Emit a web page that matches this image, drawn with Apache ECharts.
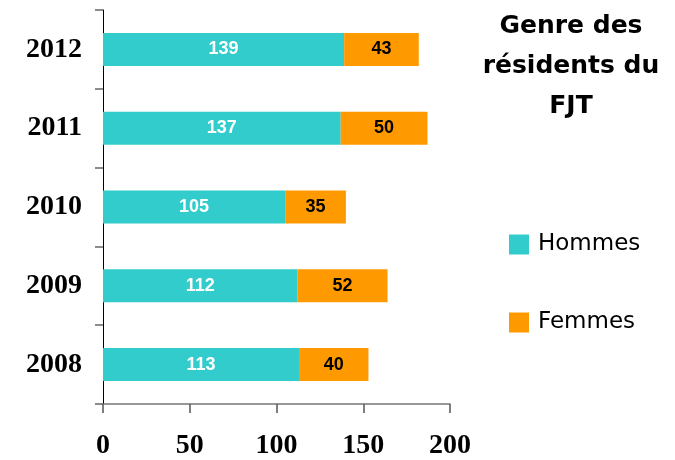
<!DOCTYPE html>
<html>
<head>
<meta charset="utf-8">
<script src="https://cdn.jsdelivr.net/npm/echarts@6/dist/echarts.min.js"></script>
<style>
  html, body { margin: 0; padding: 0; background: #fff; }
  #chart { width: 675px; height: 460px; }
</style>
</head>
<body>
<div id="chart"></div>
<script>
  const years = ['2008', '2009', '2010', '2011', '2012']
  const hommes = [113, 112, 105, 137, 139]
  const femmes = [40, 52, 35, 50, 43]
  const xTicks = [0, 50, 100, 150, 200]

  const myChart = echarts.init(document.getElementById('chart'))
  const option = {
    animation: false,
    backgroundColor: '#fff',
    title: {
      text: 'Genre des\nrésidents du\nFJT',
      left: 566,
      textAlign: 'center',
      top: 1,
      textStyle: {
        fontFamily: 'DejaVu Sans',
        fontWeight: 'bold',
        fontSize: 25,
        lineHeight: 40,
        color: '#000'
      }
    },
    legend: {
      orient: 'vertical',
      left: 504,
      top: 228,
      itemWidth: 20,
      itemHeight: 20,
      itemGap: 55,
      icon: 'rect',
      data: ['Hommes', 'Femmes'],
      textStyle: {
        fontFamily: 'DejaVu Sans',
        fontSize: 23,
        color: '#000',
        padding: [0, 0, 0, 4]
      }
    },
    grid: {
      left: 103,
      right: 225,
      top: 10,
      bottom: 55,
      containLabel: false
    },
    xAxis: {
      type: 'value',
      min: xTicks[0],
      max: xTicks[xTicks.length - 1],
      interval: 50,
      splitLine: { show: false },
      axisLine: { show: true, lineStyle: { color: '#777', width: 1.5 } },
      axisTick: { show: true, length: 9, lineStyle: { color: '#555', width: 1.5 } },
      axisLabel: {
        margin: 28,
        fontFamily: 'Liberation Serif',
        fontWeight: 'bold',
        fontSize: 28,
        color: '#000'
      }
    },
    yAxis: {
      type: 'category',
      data: years,
      axisLine: { show: true, lineStyle: { color: '#000', width: 1 } },
      axisTick: { show: true, length: 8, lineStyle: { color: '#666', width: 1.5 } },
      axisLabel: {
        margin: 21,
        fontFamily: 'Liberation Serif',
        fontWeight: 'bold',
        fontSize: 28,
        color: '#000'
      }
    },
    series: [{
        name: 'Hommes',
        type: 'bar',
        stack: 'total',
        barWidth: 33,
        itemStyle: { color: '#33CCCC' },
        label: {
          show: true,
          position: 'inside',
          color: '#fff',
          fontFamily: 'Liberation Sans',
          fontWeight: 'bold',
          fontSize: 18
        },
        data: hommes
      },
      {
        name: 'Femmes',
        type: 'bar',
        stack: 'total',
        barWidth: 33,
        itemStyle: { color: '#FF9900' },
        label: {
          show: true,
          position: 'inside',
          color: '#000',
          fontFamily: 'Liberation Sans',
          fontWeight: 'bold',
          fontSize: 18
        },
        data: femmes
      }
    ]
  }
  myChart.setOption(option)
</script>
</body>
</html>
